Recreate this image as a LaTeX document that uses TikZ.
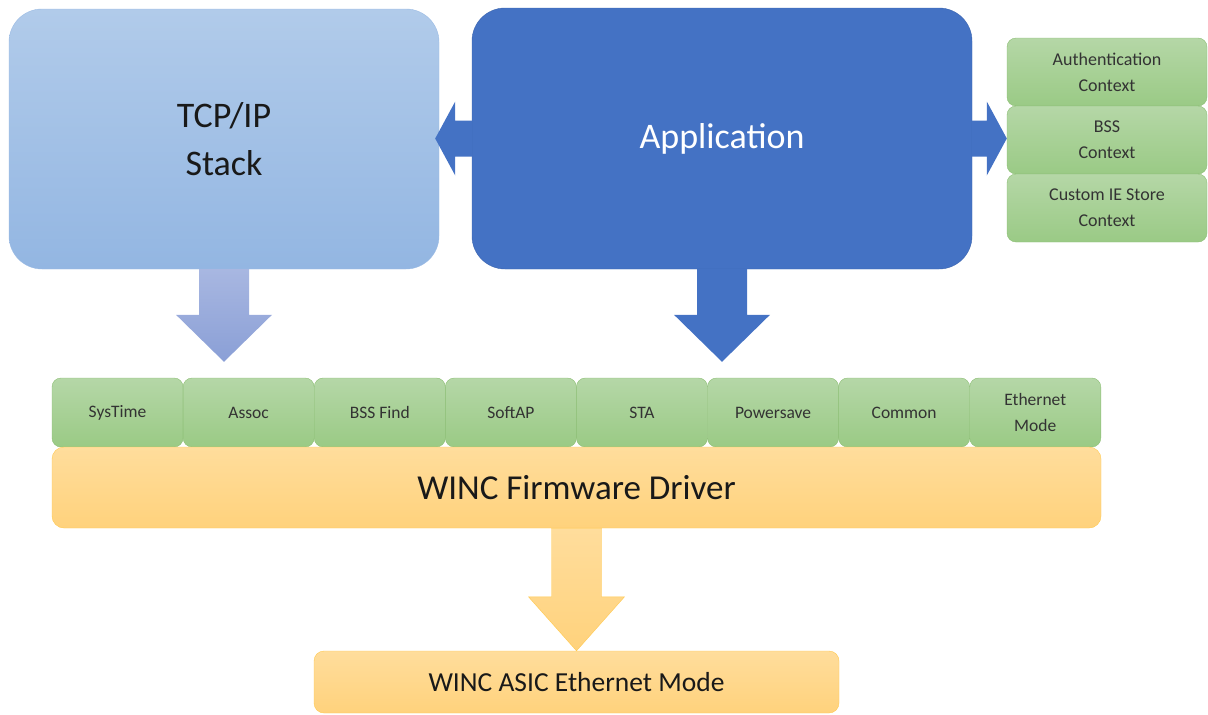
\documentclass[tikz,border=0pt]{standalone}
\usepackage{fontspec}
\setmainfont{Carlito}
\usepackage{tikz}
\usetikzlibrary{calc}

\definecolor{tcpTop}{HTML}{B1CBEA}
\definecolor{tcpBot}{HTML}{93B6E2}
\definecolor{tcpLine}{HTML}{9BBBE4}
\definecolor{appBlue}{HTML}{4472C4}
\definecolor{appLine}{HTML}{3C65AF}
\definecolor{arrTop}{HTML}{A8B7E1}
\definecolor{arrBot}{HTML}{8A9FD6}
\definecolor{grnTop}{HTML}{B5D7A7}
\definecolor{grnBot}{HTML}{9ACA85}
\definecolor{grnLine}{HTML}{8CBE74}
\definecolor{ylwTop}{HTML}{FFDD9C}
\definecolor{ylwBot}{HTML}{FFD27C}
\definecolor{ylwLine}{HTML}{FFC94E}
\definecolor{txtGray}{HTML}{333333}

% fat arrows between the blocks
\newcommand{\downblock}[4]{%
  \path[#1] let \p1=(#2), \p2=(#3) in
    (\x1-25pt,\y1) -- (\x1+25pt,\y1) -- (\x1+25pt,\y2+#4) -- (\x1+48pt,\y2+#4)
    -- (\x1,\y2) -- (\x1-48pt,\y2+#4) -- (\x1-25pt,\y2+#4) -- cycle;}
\newcommand{\sideblock}[3]{%
  \path[#1] let \p1=(#2), \p2=(#3), \p3=($(#3)!20pt!(#2)$) in
    (\x1,\y1+18pt) -- (\x3,\y1+18pt) -- (\x3,\y1+37pt) -- (\x2,\y1)
    -- (\x3,\y1-37pt) -- (\x3,\y1-18pt) -- (\x1,\y1-18pt) -- cycle;}

\tikzset{
  tcpbox/.style={rectangle, rounded corners=33pt, top color=tcpTop, bottom color=tcpBot,
    draw=tcpLine, inner sep=0pt, align=center, text=black!90, font=\fontsize{36}{48}\selectfont},
  appbox/.style={rectangle, rounded corners=33pt, fill=appBlue, draw=appLine,
    inner sep=0pt, align=center, text=white, font=\fontsize{36}{43}\selectfont},
  grnbox/.style={rectangle, rounded corners=9pt, top color=grnTop, bottom color=grnBot,
    draw=grnLine, inner sep=0pt, align=center, text=txtGray},
  ctxbox/.style={grnbox, minimum width=200pt, minimum height=68pt, font=\fontsize{18}{26}\selectfont},
  modbox/.style={grnbox, minimum width=131.1pt, minimum height=69pt, font=\fontsize{17.5}{26}\selectfont},
  drvbox/.style={rectangle, rounded corners=12pt, top color=ylwTop, bottom color=ylwBot,
    draw=ylwLine, inner sep=0pt, align=center, text=black!90},
  tcparrow/.style={top color=arrTop, bottom color=arrBot},
  apparrow/.style={fill=appBlue},
  fwarrow/.style={top color=ylwTop, bottom color=ylwBot, draw=ylwLine}
}

\begin{document}
\begin{tikzpicture}[x=1pt,y=-1pt]
  \useasboundingbox (0,0) rectangle (1208,715);
  \node[tcpbox, minimum width=430pt, minimum height=260pt] (tcp) at (224,139) {TCP/IP\\Stack};
  \node[appbox, minimum width=500pt, minimum height=261pt] (app) at (722,138.5) {Application};
  \foreach \lbl [count=\i] in {{Authentication\\Context},{BSS\\Context},{Custom IE Store\\Context}}
    \node[ctxbox] (ctx\i) at (1107,{38+68*(\i-0.5)}) {\lbl};
  \foreach \lbl [count=\i] in {SysTime,Assoc,BSS Find,SoftAP,STA,Powersave,Common,{Ethernet\\Mode}}
    \node[modbox] (mod\i) at ({52+131.1*(\i-0.5)},412.5) {\lbl};
  \node[drvbox, minimum width=1049pt, minimum height=81pt, font=\fontsize{35}{42}\selectfont] (fw) at (576.5,487.5) {WINC Firmware Driver};
  \node[drvbox, minimum width=525pt, minimum height=62pt, rounded corners=10pt, font=\fontsize{27.5}{33}\selectfont] (asic) at (576.5,682) {WINC ASIC Ethernet Mode};

  \coordinate (tcptip) at ($(tcp.south |- mod1.north)+(0,-16)$);
  \coordinate (apptip) at ($(app.south |- mod1.north)+(0,-16)$);
  \coordinate (ltip) at ($(tcp.east |- app.west)+(-4,0)$);
  \coordinate (rtip) at (ctx2.west |- app.east);
  \downblock{tcparrow}{tcp.south}{tcptip}{47pt}
  \downblock{apparrow}{app.south}{apptip}{47pt}
  \downblock{fwarrow}{fw.south}{asic.north}{54pt}
  \sideblock{apparrow}{app.west}{ltip}
  \sideblock{apparrow}{app.east}{rtip}
\end{tikzpicture}
\end{document}
